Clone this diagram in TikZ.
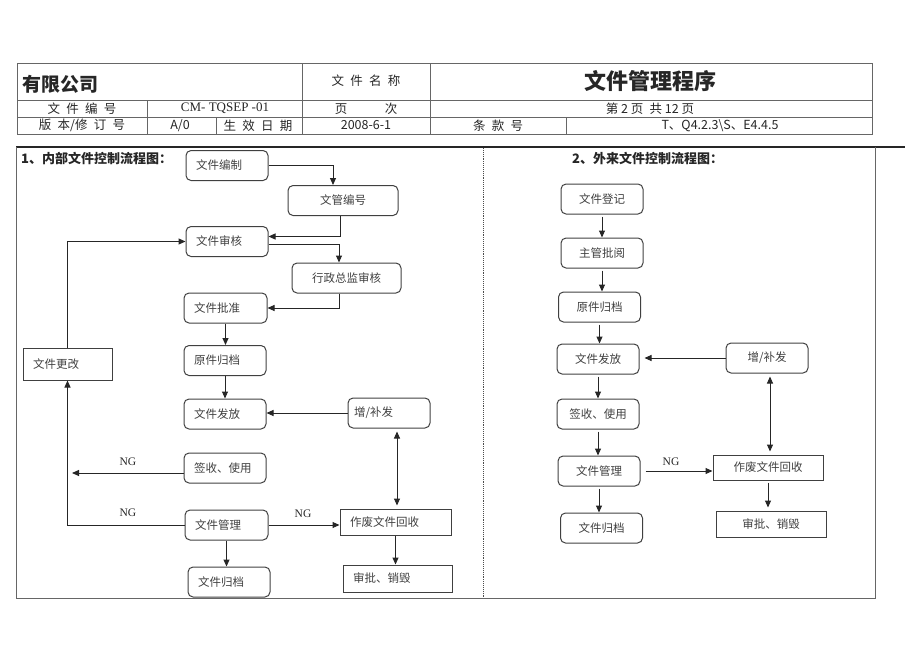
\documentclass[tikz,border=0pt]{standalone}
\usepackage{fontspec}
\setmainfont{Liberation Serif}
\newfontfamily\cjk{Noto Sans CJK SC}
\usetikzlibrary{arrows.meta}
\newcommand{\gap}{\hspace{0.5em}}

\tikzset{%
  % Specifications for style of nodes:
         base/.style = {rectangle, rounded corners=5pt, draw=black!75, line width=1pt, minimum width=82pt, minimum height=30pt, inner xsep=10pt, font=\cjk\fontsize{11.5}{13}\selectfont, text=black!75},
        lbase/.style = {base, text width=62pt, align=left},
        sbase/.style = {base, sharp corners},
         cell/.style = {inner sep=0pt, text=black!85, font=\cjk\fontsize{12.5}{14}\selectfont},
       tabline/.style = {line width=0.8pt, draw=black!60},
         flow/.style = {-{Triangle[length=7pt,width=6pt]}, line width=1pt, draw=black!85},
        dflow/.style = {flow, {Triangle[length=7pt,width=6pt]}-{Triangle[length=7pt,width=6pt]}, shorten <=3pt, shorten >=3pt},
       nglabel/.style = {inner sep=0pt, text=black!85, font=\fontsize{11.5}{12}\selectfont},
}

\begin{document}
\begin{tikzpicture}[x=1pt, y=-1pt]
    \useasboundingbox (0,0) rectangle (920,651);

    % Header table
    \draw[tabline] (17,63) rectangle (872,134);
    \draw[tabline] (17,100) -- (872,100) (17,117) -- (872,117);
    \draw[tabline] (302,63) -- (302,134) (430,63) -- (430,134);
    \draw[tabline] (147,100) -- (147,134) (216,117) -- (216,134) (566,117) -- (566,134);

    \node (company)   [cell, anchor=west, font=\cjk\bfseries\fontsize{19}{20}\selectfont] at (22,84) {有限公司};
    \node (namekey)   [cell] at (366,81)    {文\gap 件\gap 名\gap 称};
    \node (doctitle)  [cell, font=\cjk\bfseries\fontsize{22}{24}\selectfont] at (650,81) {文件管理程序};
    \node (numkey)    [cell] at (82,108.5)  {文\gap 件\gap 编\gap 号};
    \node (numval)    [cell, font=\fontsize{13}{14}\selectfont] at (225,108.5) {CM- TQSEP -01};
    \node (pagekey)   [cell] at (366,108.5) {页\hspace{3em}次};
    \node (pageval)   [cell] at (650,108.5) {第 2 页\gap 共 12 页};
    \node (verkey)    [cell] at (82,125.5)  {版\gap 本/修\gap 订\gap 号};
    \node (verval)    [cell] at (180,125.5) {A/0};
    \node (datekey)   [cell] at (258,125.5) {生\gap 效\gap 日\gap 期};
    \node (dateval)   [cell] at (366,125.5) {2008-6-1};
    \node (clausekey) [cell] at (498,125.5) {条\gap 款\gap 号};
    \node (clauseval) [cell] at (720,125.5) {T、Q4.2.3\textbackslash S、E4.4.5};

    % Frame
    \draw[line width=1.4pt, black!85] (16,147) -- (905,147);
    \draw[tabline] (16,147) -- (16,598) -- (875,598) -- (875,147);
    \draw[densely dotted, line width=0.9pt, black!70] (483.5,148) -- (483.5,598);

    \node (title1) [cell, anchor=west, font=\cjk\bfseries\fontsize{13}{14}\selectfont] at (21,158) {1、内部文件控制流程图：};
    \node (title2) [cell, anchor=west, font=\cjk\bfseries\fontsize{13}{14}\selectfont] at (572,158) {2、外来文件控制流程图：};

    % Draw nodes (internal)
    \node (edit)     [lbase]                    at (227,165.5) {文件编制};
    \node (num)      [base, minimum width=110pt] at (343,200.5) {文管编号};
    \node (review)   [lbase]                    at (227,241.5) {文件审核};
    \node (director) [base, minimum width=109pt] at (346.5,278) {行政总监审核};
    \node (approve)  [lbase, text width=63pt]   at (225.5,308) {文件批准};
    \node (change)   [lbase, sharp corners, text width=69pt, minimum height=32pt] at (67.5,364) {文件更改};
    \node (archive)  [lbase]                    at (225,360.5) {原件归档};
    \node (issue)    [lbase]                    at (225,414)   {文件发放};
    \node (supply)   [lbase, inner xsep=6pt, text width=70pt] at (389,413) {增/补发};
    \node (sign)     [lbase]                    at (225,468)   {签收、使用};
    \node (manage)   [lbase, text width=63pt]   at (226.5,525) {文件管理};
    \node (recycle)  [lbase, sharp corners, text width=91pt, minimum height=26pt] at (395.5,522) {作废文件回收};
    \node (file)     [lbase]                    at (229,582)   {文件归档};
    \node (destroy)  [lbase, sharp corners, text width=89pt, minimum height=27pt] at (397.5,578.5) {审批、销毁};

    \node (ng1) [nglabel] at (128,462) {NG};
    \node (ng2) [nglabel] at (128,513) {NG};
    \node (ng3) [nglabel] at (303,514) {NG};
    \coordinate (ngend) at (72,473);

    % Draw nodes (external)
    \node (reg)      [base]  at (602,199)   {文件登记};
    \node (chief)    [base]  at (602,253)   {主管批阅};
    \node (archive2) [base]  at (599.5,307) {原件归档};
    \node (issue2)   [base]  at (598,359)   {文件发放};
    \node (supply2)  [base]  at (767,358)   {增/补发};
    \node (sign2)    [base]  at (598,414)   {签收、使用};
    \node (manage2)  [base]  at (599,471)   {文件管理};
    \node (recycle2) [sbase, minimum width=110pt, minimum height=25pt] at (768,467.5) {作废文件回收};
    \node (file2)    [base]  at (601.5,528) {文件归档};
    \node (destroy2) [sbase, minimum width=110pt, minimum height=26pt] at (771,524) {审批、销毁};

    \node (ng4) [nglabel] at (671,462) {NG};

    % Draw arrows (internal)
    \draw[flow] (edit.east) -| ([xshift=-10pt]num.north);
    \draw[flow] ([xshift=-3pt]num.south) |- ([yshift=5pt]review.east);
    \draw[flow] ([yshift=-2.5pt]review.east) -| ([xshift=-7.5pt]director.north);
    \draw[flow] ([xshift=-7.5pt]director.south) |- (approve.east);
    \draw[flow] (approve.south) -- (approve.south |- archive.north);
    \draw[flow] (archive.south) -- (archive.south |- issue.north);
    \draw[flow] (supply.west) -- (supply.west -| issue.east);
    \draw[dflow] ([xshift=8pt]supply.south) -- ([xshift=8pt]supply.south |- recycle.north);
    \draw[flow] (sign.west |- ngend) -- (ngend);
    \draw[flow] (manage.west) -| (change.south);
    \draw[flow] (change.north) |- (review.west);
    \draw[flow] (manage.east) -- (manage.east -| recycle.west);
    \draw[flow] (manage.south) -- (manage.south |- file.north);
    \draw[flow] (recycle.south) -- (recycle.south |- destroy.north);

    % Draw arrows (external)
    \draw[flow, shorten <=2pt] (reg.south) -- (reg.south |- chief.north);
    \draw[flow, shorten <=2pt] (chief.south) -- (chief.south |- archive2.north);
    \draw[flow, shorten <=2pt] (archive2.south) -- (archive2.south |- issue2.north);
    \draw[flow, shorten <=2pt] (issue2.south) -- (issue2.south |- sign2.north);
    \draw[flow, shorten <=2pt] (sign2.south) -- (sign2.south |- manage2.north);
    \draw[flow, shorten <=2pt] (manage2.south) -- (manage2.south |- file2.north);
    \draw[flow, shorten >=5pt] (supply2.west) -- (supply2.west -| issue2.east);
    \draw[dflow] ([xshift=3pt]supply2.south) -- ([xshift=3pt]supply2.south |- recycle2.north);
    \draw[flow, shorten <=5pt] (manage2.east) -- (manage2.east -| recycle2.west);
    \draw[flow, shorten <=2pt, shorten >=3pt] (recycle2.south) -- (recycle2.south |- destroy2.north);
\end{tikzpicture}
\end{document}
